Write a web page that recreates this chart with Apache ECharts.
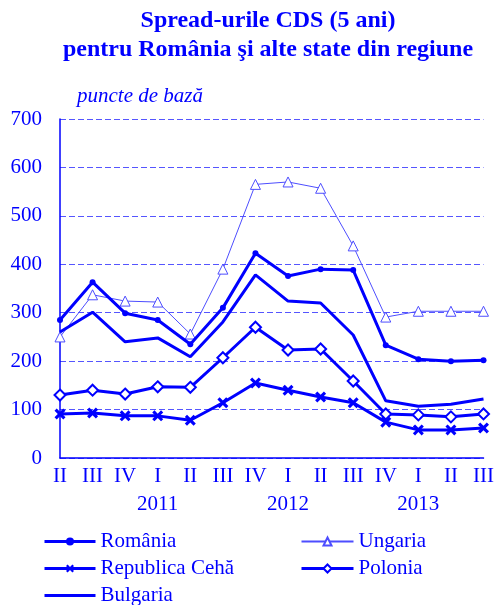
<!DOCTYPE html>
<html>
<head>
<meta charset="utf-8">
<script src="https://cdn.jsdelivr.net/npm/echarts@6/dist/echarts.min.js"></script>
<style>
html,body{margin:0;padding:0;background:#fff;}
#chart{width:497px;height:605px;}
</style>
</head>
<body>
<div id="chart"></div>
<script>
// Quarter labels (2011 Q2 .. 2013 Q3) and the year shown under each Q1
const quarters = ['II','III','IV','I','II','III','IV','I','II','III','IV','I','II','III'];
const years = {3: '2011', 7: '2012', 11: '2013'};

// CDS spreads, 5 years, basis points
const romania  = [285, 363, 299, 285, 235, 310, 423, 376, 390, 388, 233, 204, 200, 202];
const ungaria  = [250, 337, 324, 322, 256, 390, 565, 570, 557, 438, 291, 303, 303, 303];
const cehia    = [91, 93, 87, 87, 78, 114, 155, 140, 126, 114, 74, 58, 58, 62];
const polonia  = [130, 140, 132, 147, 146, 207, 270, 223, 225, 159, 91, 89, 85, 91];
const bulgaria = [260, 301, 240, 248, 209, 281, 378, 324, 320, 254, 118, 107, 111, 122];

const yTicks = [0, 100, 200, 300, 400, 500, 600, 700];

const BLUE = '#0000ff';
const LIGHT_BLUE = '#4d4dff';
const FONT = "'Liberation Serif', 'Times New Roman', serif";
const X_MARK = 'path://M2,0L5,3L8,0L10,2L7,5L10,8L8,10L5,7L2,10L0,8L3,5L0,2Z';

const chart = echarts.init(document.getElementById('chart'), null, {renderer: 'canvas'});

const legendText = {color: BLUE, fontFamily: FONT, fontSize: 21};

chart.setOption({
  animation: false,
  title: {
    text: 'Spread-urile CDS (5 ani)\npentru România şi alte state din regiune',
    left: 263, top: 1, textAlign: 'center',
    textStyle: {color: BLUE, fontFamily: FONT, fontSize: 24, fontWeight: 'bold', lineHeight: 29}
  },
  graphic: [{
    type: 'text', left: 77, top: 86,
    style: {text: 'puncte de bază', fill: BLUE, font: "italic 21px 'Liberation Serif', serif"}
  }],
  legend: [{
    left: 43, top: 531, height: 90, padding: 0, orient: 'vertical',
    itemWidth: 51, itemHeight: 10, itemGap: 6,
    lineStyle: {width: 3},
    data: ['România', 'Republica Cehă',
      {name: 'Bulgaria', itemStyle: {color: 'rgba(0,0,0,0)', borderWidth: 0}}],
    textStyle: legendText
  }, {
    left: 300, top: 531, height: 90, padding: 0, orient: 'vertical',
    itemWidth: 52, itemHeight: 10, itemGap: 6,
    data: ['Ungaria', {name: 'Polonia', lineStyle: {width: 3}}],
    textStyle: legendText
  }],
  grid: {left: 60, right: 12, top: 119, bottom: 147},
  xAxis: {
    type: 'category', data: quarters, boundaryGap: false,
    axisLine: {lineStyle: {color: BLUE, width: 1.5}},
    axisTick: {show: false},
    axisLabel: {
      color: BLUE, fontFamily: FONT, fontSize: 21, margin: 4, interval: 0, lineHeight: 28,
      formatter: (v, i) => years[i] ? v + '\n' + years[i] : v
    }
  },
  yAxis: {
    type: 'value', min: yTicks[0], max: yTicks[yTicks.length - 1], interval: 100,
    axisLine: {show: true, lineStyle: {color: BLUE, width: 1.5}},
    axisTick: {show: false},
    axisLabel: {color: BLUE, fontFamily: FONT, fontSize: 21, margin: 18},
    splitLine: {lineStyle: {color: '#5555ff', type: [6, 3], width: 1}}
  },
  series: [{
    name: 'România', type: 'line', data: romania,
    symbol: 'circle', symbolSize: 6,
    lineStyle: {color: BLUE, width: 3}, itemStyle: {color: BLUE}, z: 5
  }, {
    name: 'Ungaria', type: 'line', data: ungaria,
    symbol: 'triangle', symbolSize: 10,
    lineStyle: {color: LIGHT_BLUE, width: 1},
    itemStyle: {color: '#fff', borderColor: LIGHT_BLUE, borderWidth: 1}, z: 3
  }, {
    name: 'Republica Cehă', type: 'line', data: cehia,
    symbol: X_MARK, symbolSize: 11,
    lineStyle: {color: BLUE, width: 3}, itemStyle: {color: BLUE}, z: 5
  }, {
    name: 'Polonia', type: 'line', data: polonia,
    symbol: 'diamond', symbolSize: 11,
    lineStyle: {color: BLUE, width: 3},
    itemStyle: {color: '#fff', borderColor: BLUE, borderWidth: 2}, z: 5
  }, {
    name: 'Bulgaria', type: 'line', data: bulgaria,
    symbol: 'none', showSymbol: false,
    lineStyle: {color: BLUE, width: 3}, itemStyle: {color: BLUE}, z: 4
  }]
});
</script>
</body>
</html>
